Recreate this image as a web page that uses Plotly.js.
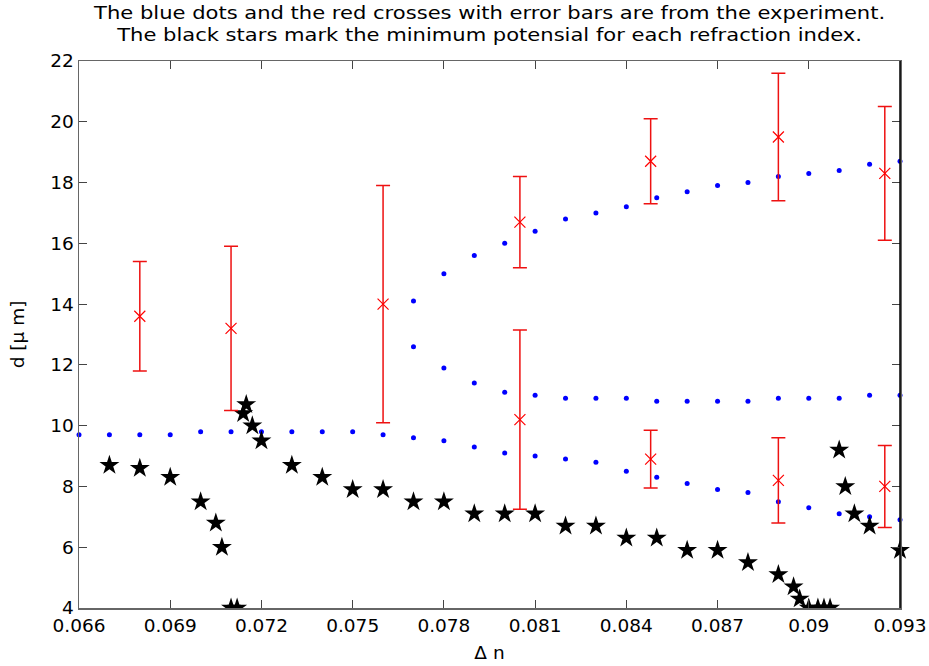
<!DOCTYPE html>
<html>
<head>
<meta charset="utf-8">
<script src="https://cdn.plot.ly/plotly-3.0.1.min.js"></script>
<style>html,body{margin:0;padding:0;background:#fff;}#chart{width:929px;height:666px;}</style>
</head>
<body>
<div id="chart"></div>
<script>
// Blue dots (experiment), three branches
const blueLowX = [0.066,0.067,0.068,0.069,0.070,0.071,0.072,0.073,0.074,0.075,0.076,0.077,0.078,0.079,0.080,0.081,0.082,0.083,0.084,0.085,0.086,0.087,0.088,0.089,0.090,0.091,0.092,0.093];
const blueLowY = [9.7,9.7,9.7,9.7,9.8,9.8,9.8,9.8,9.8,9.8,9.7,9.6,9.5,9.3,9.1,9.0,8.9,8.8,8.5,8.3,8.1,7.9,7.8,7.5,7.3,7.1,7.0,6.9];
const blueMidX = [0.077,0.078,0.079,0.080,0.081,0.082,0.083,0.084,0.085,0.086,0.087,0.088,0.089,0.090,0.091,0.092,0.093];
const blueMidY = [12.6,11.9,11.4,11.1,11.0,10.9,10.9,10.9,10.8,10.8,10.8,10.8,10.9,10.9,10.9,11.0,11.0];
const blueUpX = [0.077,0.078,0.079,0.080,0.081,0.082,0.083,0.084,0.085,0.086,0.087,0.088,0.089,0.090,0.091,0.092,0.093];
const blueUpY = [14.1,15.0,15.6,16.0,16.4,16.8,17.0,17.2,17.5,17.7,17.9,18.0,18.2,18.3,18.4,18.6,18.7];

// Red crosses with error bars
const redX = [0.068,0.071,0.076,0.0805,0.0805,0.0848,0.0848,0.089,0.089,0.0925,0.0925];
const redY = [13.6,13.2,14.0,16.7,10.2,18.7,8.9,19.5,8.2,18.3,8.0];
const redTop = [15.4,15.9,17.9,18.2,13.15,20.1,9.85,21.6,9.6,20.5,9.35];
const redBottom = [11.8,10.5,10.1,15.2,7.25,17.3,7.95,17.4,6.8,16.1,6.65];

// Black stars: minimum potential
const starX = [0.067,0.068,0.069,0.070,0.0705,0.0707,0.0710,0.0712,0.0714,0.0715,0.0717,0.072,0.073,0.074,0.075,0.076,0.077,0.078,0.079,0.080,0.081,0.082,0.083,0.084,0.085,0.086,0.087,0.088,0.089,0.0895,0.0897,0.0900,0.0903,0.0905,0.0907,0.0910,0.0912,0.0915,0.0920,0.093];
const starY = [8.7,8.6,8.3,7.5,6.8,6.0,4.0,4.0,10.4,10.7,10.0,9.5,8.7,8.3,7.9,7.9,7.5,7.5,7.1,7.1,7.1,6.7,6.7,6.3,6.3,5.9,5.9,5.5,5.1,4.7,4.3,4.0,4.0,4.0,4.0,9.2,8.0,7.1,6.7,5.9];

// Axis ticks
const xTickVals = [0.066,0.069,0.072,0.075,0.078,0.081,0.084,0.087,0.090,0.093];
const xTickText = ["0.066","0.069","0.072","0.075","0.078","0.081","0.084","0.087","0.09","0.093"];
const yTickVals = [4,6,8,10,12,14,16,18,20,22];

const titleText = "The blue dots and the red crosses with error bars are from the experiment.<br>The black stars mark the minimum potensial for each refraction index.";

const blueMarker = {color:'#0000ff', size:5, symbol:'circle'};
const starMarker = {color:'#000000', size:15, symbol:'star', line:{width:0}};

const starUpX = [], starUpY = [], starLowX = [], starLowY = [];
starX.forEach((x,i)=>{ if (starY[i] > 4) { starUpX.push(x); starUpY.push(starY[i]); } else { starLowX.push(x); starLowY.push(starY[i]); } });

const traces = [
  {x:blueLowX, y:blueLowY, type:'scatter', mode:'markers', marker:blueMarker, cliponaxis:false},
  {x:blueMidX, y:blueMidY, type:'scatter', mode:'markers', marker:blueMarker, cliponaxis:false},
  {x:blueUpX, y:blueUpY, type:'scatter', mode:'markers', marker:blueMarker, cliponaxis:false},
  {x:starUpX, y:starUpY, type:'scatter', mode:'markers', marker:starMarker, cliponaxis:false},
  {x:starLowX, y:starLowY, type:'scatter', mode:'markers', marker:starMarker, cliponaxis:true},
  {x:redX, y:redY, type:'scatter', mode:'markers',
   marker:{symbol:'x-thin-open', size:11, color:'#ff0000', line:{color:'#ff0000', width:1.2}},
   error_y:{type:'data', symmetric:false,
     array: redTop.map((t,i)=>t-redY[i]),
     arrayminus: redBottom.map((b,i)=>redY[i]-b),
     color:'#ee1111', thickness:1.5, width:7},
   cliponaxis:false}
];

const axFont = {family:'DejaVu Sans, sans-serif', size:18.5, color:'#000'};

const layout = {
  width:929, height:666,
  margin:{l:79, r:29, t:61, b:58, pad:0},
  paper_bgcolor:'#ffffff', plot_bgcolor:'#ffffff',
  showlegend:false,
  title:{text:titleText, x:0.5, xref:'paper', xanchor:'center', y:0.972, yref:'container', yanchor:'top',
         font:{family:'DejaVu Sans, sans-serif', size:17, color:'#000'}},
  xaxis:{range:[0.066,0.093], tickmode:'array', tickvals:xTickVals, ticktext:xTickText,
         ticks:'inside', ticklen:8, tickwidth:1.2, tickcolor:'#444', mirror:'ticks',
         showline:true, linecolor:'#666', linewidth:1.5, showgrid:false, zeroline:false,
         tickfont:axFont, title:{text:'Δ n', font:axFont, standoff:11}},
  yaxis:{range:[4,22], tickmode:'array', tickvals:yTickVals,
         ticks:'inside', ticklen:8, tickwidth:1.2, tickcolor:'#444', mirror:'ticks',
         showline:true, linecolor:'#666', linewidth:1.5, showgrid:false, zeroline:false,
         tickfont:axFont, title:{text:'d [μ m]', font:axFont, standoff:21}},
  shapes:[{type:'line', xref:'paper', yref:'paper', x0:1, x1:1, y0:0, y1:1, line:{color:'#000', width:1.5}}]
};

Plotly.newPlot('chart', traces, layout, {staticPlot:true, displayModeBar:false}).then(gd => {
  // the reference title is drawn horizontally stretched; widen it the same way
  const t = gd.querySelector('.gtitle');
  if (t) {
    const bb = t.getBBox();
    const cx = bb.x + bb.width / 2;
    const stretch = 1.24;
    t.setAttribute('transform', `translate(${cx},0) scale(${stretch},1) translate(${-cx},0)`);
  }
});
</script>
</body>
</html>
